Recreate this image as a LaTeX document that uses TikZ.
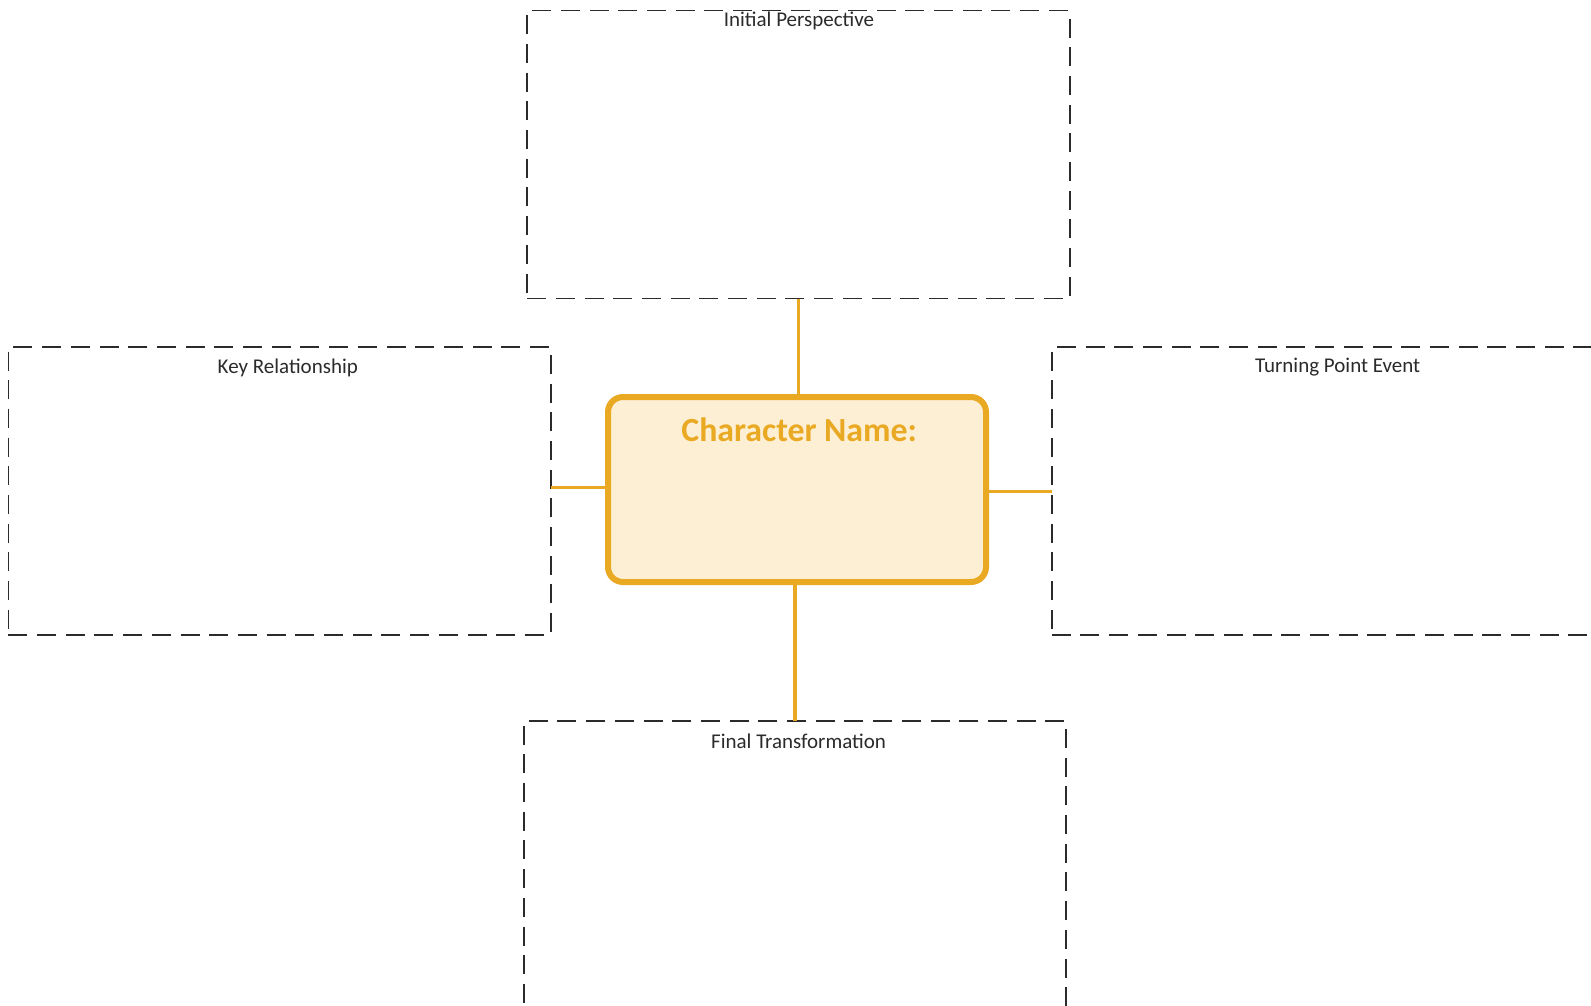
\documentclass[tikz,border=0pt]{standalone}
\usepackage{fontspec}
\setmainfont{Carlito}
\usetikzlibrary{positioning, calc}
\definecolor{arcgold}{HTML}{EAA923}
\definecolor{arcfill}{HTML}{FDEFD3}
\definecolor{inkgray}{HTML}{2B2B2B}
\tikzset{
  panel/.style={
    rectangle, draw=inkgray, line width=1.7pt, dash pattern=on 19pt off 9.7pt,
    minimum width=542.5pt, minimum height=288pt, inner sep=0pt, outer sep=0pt
  },
  paneltext/.style={font=\fontsize{21}{24}\selectfont, text=inkgray, inner sep=0pt, anchor=base},
  hub/.style={
    rectangle, draw=arcgold, fill=arcfill, line width=6pt, rounded corners=15pt,
    minimum width=378pt, minimum height=185pt
  },
  hubtext/.style={font=\fontsize{33.8}{38}\selectfont\bfseries, text=arcgold, inner sep=0pt, anchor=base},
  link/.style={draw=arcgold, line width=3.5pt}
}

\begin{document}
\begin{tikzpicture}[x=1pt, y=-1pt]
    \useasboundingbox[fill=white] (0,0) rectangle (1591,1005);
    \node[hub] (character) at (797,489.5) {};
    \node[panel] (initial) at (798.4,154.6) {};
    \node[panel] (keyrel) at (279.6,490.9) {};
    \node[panel] (turning) at (1323,490.9) {};
    \node[panel] (final) at (794.9,865) {};
    % headings
    \node[hubtext] (charname) at ([xshift=2.2pt, yshift=-47.7pt]character.north) {Character Name:};
    \node[paneltext] (initialtext) at ([xshift=0.6pt, yshift=-16.2pt]initial.north) {Initial Perspective};
    \node[paneltext] (keyreltext) at ([xshift=8.2pt, yshift=-26.5pt]keyrel.north) {Key Relationship};
    \node[paneltext] (turningtext) at ([xshift=14.7pt, yshift=-25.5pt]turning.north) {Turning Point Event};
    \node[paneltext] (finaltext) at ([xshift=3.7pt, yshift=-27.5pt]final.north) {Final Transformation};
    % connectors
    \draw[link] (initial.south) -- (initial.south |- character.north);
    \draw[link] (final.north) -- (final.north |- character.south);
    \draw[link] ([yshift=1.8pt]character.west) -- ([yshift=1.8pt]character.west -| keyrel.east);
    \draw[link] ([yshift=-2.2pt]character.east) -- ([yshift=-2.2pt]character.east -| turning.west);
\end{tikzpicture}
\end{document}
